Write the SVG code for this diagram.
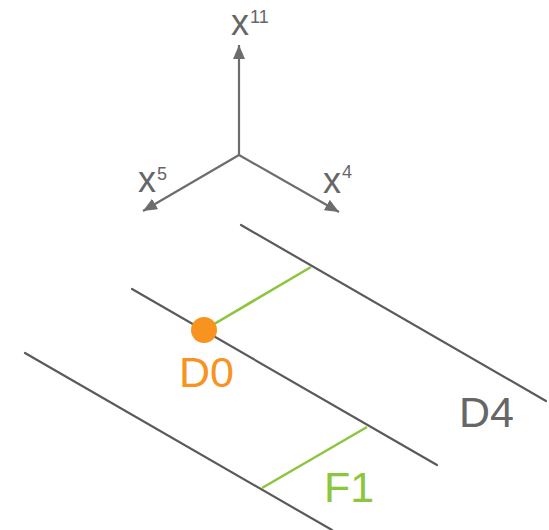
<svg xmlns="http://www.w3.org/2000/svg" width="549" height="530" viewBox="0 0 549 530">
<style>
.ax{stroke:#6d6d6d;stroke-width:2.2;fill:none}
.ln{stroke:#5a5a5a;stroke-width:2.2;fill:none;stroke-linecap:round}
.gr{stroke:#8cc63f;stroke-width:2.6;fill:none}
.t{font-family:"Liberation Sans",Arial,sans-serif;fill:#666}
.big{font-size:43px}
.ax-l{font-size:36px}
.sup{font-size:18px}
</style>
<defs>
<marker id="ah" markerUnits="userSpaceOnUse" markerWidth="16" markerHeight="12" refX="14" refY="6" orient="auto">
<path d="M0,0 L14,6 L0,12 Z" fill="#6d6d6d"/>
</marker>
</defs>
<g id="connectors">
<line class="ax" x1="239" y1="155" x2="239" y2="45" marker-end="url(#ah)"/>
<line class="ax" x1="239" y1="155" x2="143" y2="211" marker-end="url(#ah)"/>
<line class="ax" x1="239" y1="155" x2="339" y2="212" marker-end="url(#ah)"/>
<line class="ln" x1="241" y1="225" x2="546" y2="401"/>
<line class="ln" x1="132" y1="289" x2="437" y2="465"/>
<line class="ln" x1="25" y1="353" x2="332" y2="530"/>
<line class="gr" x1="204" y1="330" x2="311" y2="267"/>
<line class="gr" x1="262" y1="488" x2="367" y2="427"/>
</g>
<g id="axis-x11">
<text class="t ax-l" x="231" y="35">x</text>
<text class="t sup" x="250" y="23">11</text>
</g>
<g id="axis-x5">
<text class="t ax-l" x="138" y="192">x</text>
<text class="t sup" x="157" y="180">5</text>
</g>
<g id="axis-x4">
<text class="t ax-l" x="323" y="193">x</text>
<text class="t sup" x="342" y="178">4</text>
</g>
<g id="D0">
<circle cx="204" cy="330" r="13" fill="#f7931e"/>
<text class="t big" x="179" y="387" style="fill:#f7931e">D0</text>
</g>
<g id="D4">
<text class="t big" x="459" y="427">D4</text>
</g>
<g id="F1">
<text class="t big" x="324" y="502" style="fill:#8cc63f">F1</text>
</g>
</svg>
